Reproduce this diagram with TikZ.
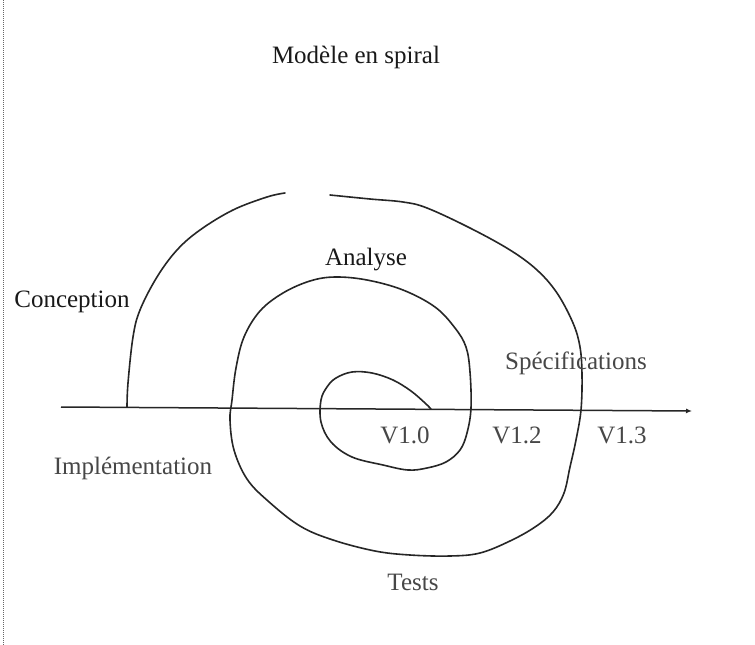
\documentclass[tikz,border=0pt]{standalone}
\usepackage{fontspec}
\setmainfont{Liberation Serif}
\usetikzlibrary{arrows.meta}
\begin{document}
\begin{tikzpicture}[x=1pt,y=-1pt,
  lbl/.style={font=\fontsize{25}{29}\selectfont, text=black!90, inner sep=0pt},
  lbllight/.style={lbl, text=black!72},
  curve/.style={line width=1.6pt, draw=black!85, line cap=round, line join=round},
  axisline/.style={line width=1.5pt, draw=black!85, -{Latex[length=6pt,width=5pt]}},
  border/.style={line width=1pt, draw=black!60, densely dotted}]
\useasboundingbox (0,0) rectangle (755,645);
\fill[white] (0,0) rectangle (755,645);
% left dotted border
\coordinate (bT) at (3,0);
\coordinate (bB) at (3,645);
\draw[border] (bT) -- (bB);
% axis
\coordinate (axL) at (61,407);
\coordinate (axR) at (692,411);
\draw[axisline] (axL) -- (axR);
% spiral, outer part before the gap
\draw[curve] plot[smooth, tension=0.6] coordinates {
 (127,407) (128,383) (133,337) (140,310) (157,277) (177,250) (200,230)
 (233,210) (267,197) (285,193)};
% spiral, rest
\draw[curve] plot[smooth, tension=0.6] coordinates {
 (330,195) (370,199) (403,202) (427,208) (470,228) (510,250) (537,270)
 (557,293) (573,323) (580,347) (582,375) (581,410) (576,440) (570,467)
 (564,493) (553,512) (535,527) (510,541) (480,553) (450,556) (410,555)
 (375,551) (333,540) (300,526) (268,501) (247,479) (234,450) (230,420)
 (232,400) (236,368) (244,337) (260,311) (283,293) (310,281) (335,277)
 (367,280) (403,290) (435,307) (455,328) (466,347) (470,372) (471,408)
 (467,433) (460,450) (446,462) (427,468) (408,470) (383,465) (352,457)
 (331,442) (321,422) (321,400) (327,387) (336,378) (352,372) (372,373)
 (393,380) (411,391) (425,403) (431,409)};
% labels
\node[lbl] (title) at (356,57) {Modèle en spiral};
\node[lbl] (conc) at (72,302) {Conception};
\node[lbl] (anal) at (366,260) {Analyse};
\node[lbllight] (spec) at (576,363) {Spécifications};
\node[lbllight] (v10) at (405,435) {V1.0};
\node[lbllight] (v12) at (517,435) {V1.2};
\node[lbllight] (v13) at (622,435) {V1.3};
\node[lbllight] (impl) at (133,468) {Implémentation};
\node[lbllight] (tests) at (413,582) {Tests};
\end{tikzpicture}
\end{document}
